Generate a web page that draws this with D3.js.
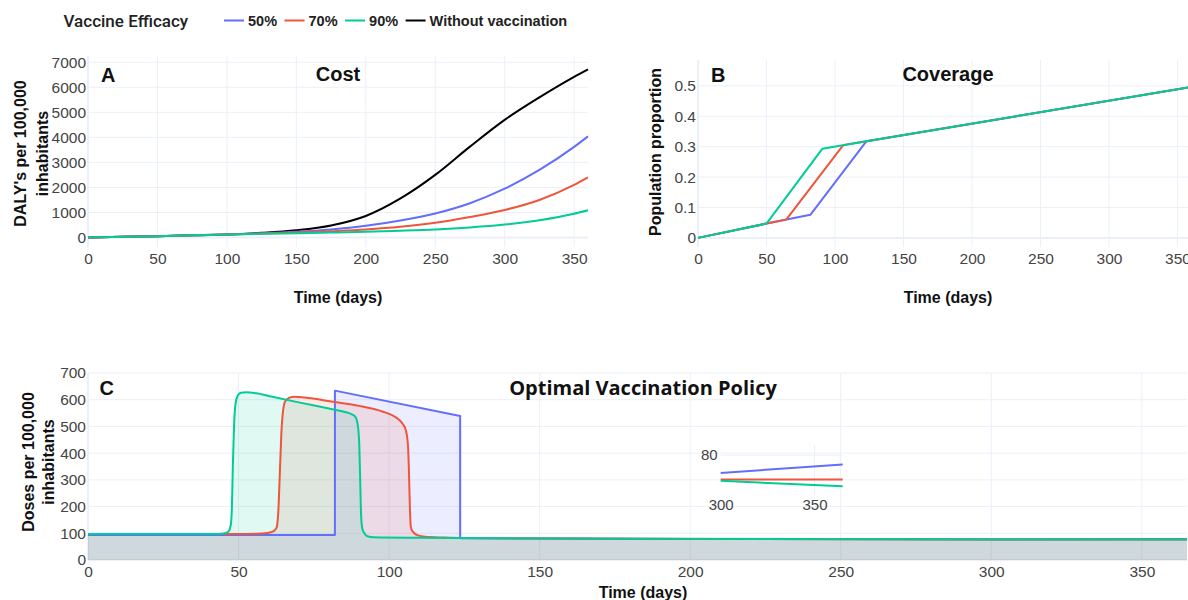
<!DOCTYPE html>
<html>
<head>
<meta charset="utf-8">
<script src="https://cdn.jsdelivr.net/npm/d3@7"></script>
<style>
  body { margin: 0; background: #fff; }
  svg { display: block; font-family: "Liberation Sans", Arial, sans-serif; }
</style>
</head>
<body>
<svg id="chart" width="1188" height="600"></svg>
<script>
/* ========================= DATA ======================== */
/* ======================================================= */

const seriesNames = ["50%", "70%", "90%", "Without vaccination"];
const seriesColors = ["#636efa", "#ef553b", "#00cc96", "#000000"];

// panel A : cumulative DALY's per 100,000
const costDays  = [0, 25, 50, 75, 100, 125, 150, 175, 200, 225, 250, 275, 300, 325, 350, 360];
const cost50    = [0, 25, 53, 85, 118, 165, 226, 320, 466, 680, 960, 1370, 1950, 2700, 3620, 4040];
const cost70    = [0, 25, 53, 85, 117, 155, 196, 252, 320, 426, 586, 820, 1100, 1500, 2100, 2400];
const cost90    = [0, 25, 53, 85, 116, 145, 170, 196, 226, 268, 320, 400, 515, 690, 950, 1090];
const costNoVac = [0, 25, 53, 85, 120, 186, 290, 480, 860, 1560, 2500, 3630, 4700, 5600, 6420, 6720];

// panel B : coverage [day, population proportion]
const cover50 = [[0, 0], [50, 0.047], [82, 0.076], [123, 0.318], [365, 0.5]];
const cover70 = [[0, 0], [50, 0.047], [64.4, 0.060], [106, 0.305], [123, 0.318], [365, 0.5]];
const cover90 = [[0, 0], [50, 0.047], [90.7, 0.293], [123, 0.318], [365, 0.5]];

// panel C : doses per 100,000 [day, doses]
const doses50 = [[0, 94], [82, 94], [82.01, 634], [123.6, 539], [123.61, 81], [200, 78.5], [300, 77.9], [365, 78.9]];
const doses70 = [[0, 97], [50, 97], [56, 98], [59.5, 101], [61.5, 107], [62.6, 120], [63.2, 180], [63.7, 320],
                 [64.2, 470], [64.8, 560], [65.6, 596], [66.8, 607], [68.5, 611], [72, 608], [81.5, 592], [90, 577],
                 [98, 555], [101, 542], [103, 528], [104.5, 510], [105.5, 488], [106.2, 440], [106.6, 330],
                 [106.9, 200], [107.2, 125], [107.8, 107], [109.6, 92], [112, 87], [118, 84], [125, 82],
                 [200, 79], [300, 77.14], [365, 77.14]];
const doses90 = [[0, 97], [42, 97], [45, 99], [46.6, 106], [47.4, 130], [47.8, 200], [48.1, 350], [48.5, 500],
                 [49, 585], [49.7, 615], [50.8, 626], [52.5, 628], [56, 624], [60, 614], [70, 590], [80, 567],
                 [85, 555], [87.5, 546], [88.8, 536], [89.6, 505], [90.1, 430], [90.4, 300], [90.7, 170],
                 [91.1, 118], [91.8, 100], [92.8, 89], [95, 85], [110, 83], [125, 82], [200, 79.5],
                 [300, 76.98], [365, 76.32]];

const dayTicks    = [0, 50, 100, 150, 200, 250, 300, 350];
const costTicks   = [0, 1000, 2000, 3000, 4000, 5000, 6000, 7000];
const coverTicks  = [0, 0.1, 0.2, 0.3, 0.4, 0.5];
const dosesTicks  = [0, 100, 200, 300, 400, 500, 600, 700];
const insetDayTicks  = [300, 350];
const insetDoseTicks = [80];

/* ======================================================= */
/* ===================== END OF DATA ===================== */

const svg = d3.select("#chart");
const gridColor = "#ebf0f8";
const tickColor = "#444";
const tickFont = 15.5;

function translate(x, y) {
    return "translate(" + x + "," + y + ")";
}

/* =================== HELPER FUNCTIONS ================== */
/* ======================================================= */

function initPanel(p) {
    let x = d3.scaleLinear().domain(p.xDomain).range(p.xRange);
    let y = d3.scaleLinear().domain(p.yDomain).range(p.yRange);
    let g = svg.append("g");

    // grid
    g.append("g").selectAll("line")
     .data(p.xGrid || p.xTicks).join("line")
     .attr("x1", d => x(d)).attr("x2", d => x(d))
     .attr("y1", p.yRange[0]).attr("y2", p.yRange[1])
     .attr("stroke", gridColor)
     .attr("stroke-width", d => d === 0 ? 2 : 1);
    g.append("g").selectAll("line")
     .data(p.yTicks).join("line")
     .attr("x1", p.xRange[0]).attr("x2", p.xRange[1])
     .attr("y1", d => y(d)).attr("y2", d => y(d))
     .attr("stroke", gridColor)
     .attr("stroke-width", d => d === 0 ? 2 : 1);

    // tick labels
    g.append("g")
     .attr("transform", translate(0, p.yRange[0]))
     .call(d3.axisBottom(x).tickValues(p.xTicks).tickSize(0).tickPadding(p.xPad || 5.5).tickFormat(d3.format("d")))
     .call(a => a.select(".domain").remove())
     .attr("font-size", p.font || tickFont)
     .attr("font-family", null)
     .style("color", tickColor);
    g.append("g")
     .attr("transform", translate(p.xRange[0], 0))
     .call(d3.axisLeft(y).tickValues(p.yTicks).tickSize(0).tickPadding(p.yPad || 2).tickFormat(d3.format("~g")))
     .call(a => a.select(".domain").remove())
     .attr("font-size", p.font || tickFont)
     .attr("font-family", null)
     .style("color", tickColor);

    return {x: x, y: y, g: g};
}

function drawLine(panel, pts, color, curve) {
    panel.g.append("path")
         .datum(pts)
         .attr("fill", "none")
         .attr("stroke", color)
         .attr("stroke-width", 2)
         .attr("stroke-linejoin", "round")
         .attr("d", d3.line().x(d => panel.x(d[0])).y(d => panel.y(d[1])).curve(curve));
}

function drawFill(panel, pts, color, curve) {
    panel.g.append("path")
         .datum(pts)
         .attr("fill", color)
         .attr("fill-opacity", 0.12)
         .attr("d", d3.area().x(d => panel.x(d[0])).y0(panel.y(0)).y1(d => panel.y(d[1])).curve(curve));
}

function label(x, y, str, size, weight, anchor, family) {
    return svg.append("text")
              .attr("x", x).attr("y", y)
              .attr("font-size", size)
              .attr("font-weight", weight || "normal")
              .attr("text-anchor", anchor || "start")
              .attr("font-family", family || null)
              .attr("fill", "#111")
              .text(str);
}

function yTitle(x, y, str) {
    svg.append("text")
       .attr("transform", translate(x, y) + " rotate(-90)")
       .attr("text-anchor", "middle")
       .attr("dominant-baseline", "central")
       .attr("font-size", 16)
       .attr("font-weight", "bold")
       .attr("fill", "#111")
       .text(str);
}

/* ======================================================= */
/* =============== END OF HELPER FUNCTIONS =============== */


/* ======================= PANEL A ======================= */
let panelA = initPanel({xDomain: [0, 360], xRange: [88, 588], yDomain: [-380, 7250], yRange: [247, 56],
                        xTicks: dayTicks, yTicks: costTicks});
let costSeries = [cost50, cost70, cost90].map(v => costDays.map((d, i) => [d, v[i]]));
drawLine(panelA, costDays.map((d, i) => [d, costNoVac[i]]), seriesColors[3], d3.curveMonotoneX);
costSeries.forEach((s, i) => drawLine(panelA, s, seriesColors[i], d3.curveMonotoneX));

label(101, 81.5, "A", 20, "bold");
label(338, 80.5, "Cost", 20, "bold", "middle");
label(338, 302.5, "Time (days)", 16, "bold", "middle");
yTitle(20.7, 153.5, "DALY's per 100,000");
yTitle(42.7, 153.5, "inhabitants");

/* ======================= PANEL B ======================= */
let panelB = initPanel({xDomain: [0, 365], xRange: [698, 1198], yDomain: [-0.03, 0.585], yRange: [247, 60],
                        xTicks: dayTicks, yTicks: coverTicks});
[cover50, cover70, cover90].forEach((s, i) => drawLine(panelB, s, seriesColors[i], d3.curveLinear));

label(711, 81.5, "B", 20, "bold");
label(948, 80.5, "Coverage", 20, "bold", "middle");
label(948, 302.5, "Time (days)", 16, "bold", "middle");
yTitle(655, 152, "Population proportion");

/* ======================= PANEL C ======================= */
let panelC = initPanel({xDomain: [0, 365], xRange: [88, 1187], yDomain: [0, 700], yRange: [560, 373],
                        xTicks: dayTicks, yTicks: dosesTicks});
let dosesSeries = [doses50, doses70, doses90];
let dosesCurves = [d3.curveLinear, d3.curveMonotoneX, d3.curveMonotoneX];
dosesSeries.forEach((s, i) => drawFill(panelC, s, seriesColors[i], dosesCurves[i]));
dosesSeries.forEach((s, i) => drawLine(panelC, s, seriesColors[i], dosesCurves[i]));

label(99.5, 395, "C", 20, "bold");
label(643, 395, "Optimal Vaccination Policy", 20, "bold", "middle", "'Open Sans', sans-serif");
label(643, 598, "Time (days)", 16, "bold", "middle");
yTitle(28.7, 462, "Doses per 100,000");
yTitle(48.5, 462, "inhabitants");

// inset : tail of the dose curves
let inset = initPanel({xDomain: [300, 365], xRange: [720.7, 842.7], yDomain: [75.3, 81.2], yRange: [495, 445],
                       xTicks: insetDayTicks, xGrid: [350], yTicks: insetDoseTicks, yPad: 3, xPad: 4.5, font: 15});
inset.g.selectAll("line").attr("stroke-width", 1);
dosesSeries.forEach((s, i) => drawLine(inset, s.filter(d => d[0] >= 300), seriesColors[i], d3.curveLinear));

/* ======================= LEGEND ======================== */
label(63.5, 26.5, "Vaccine Efficacy", 17, 500, "start", "Roboto, 'Liberation Sans', sans-serif").attr("fill", "#222");
let lx = 224;
seriesNames.forEach((name, i) => {
    svg.append("line")
       .attr("x1", lx).attr("x2", lx + 20)
       .attr("y1", 20.5).attr("y2", 20.5)
       .attr("stroke", seriesColors[i])
       .attr("stroke-width", 2);
    let t = label(lx + 24, 26, name, 14.5, "bold").attr("fill", "#222");
    lx += 24 + t.node().getComputedTextLength() + 7.5;
});
</script>
</body>
</html>
